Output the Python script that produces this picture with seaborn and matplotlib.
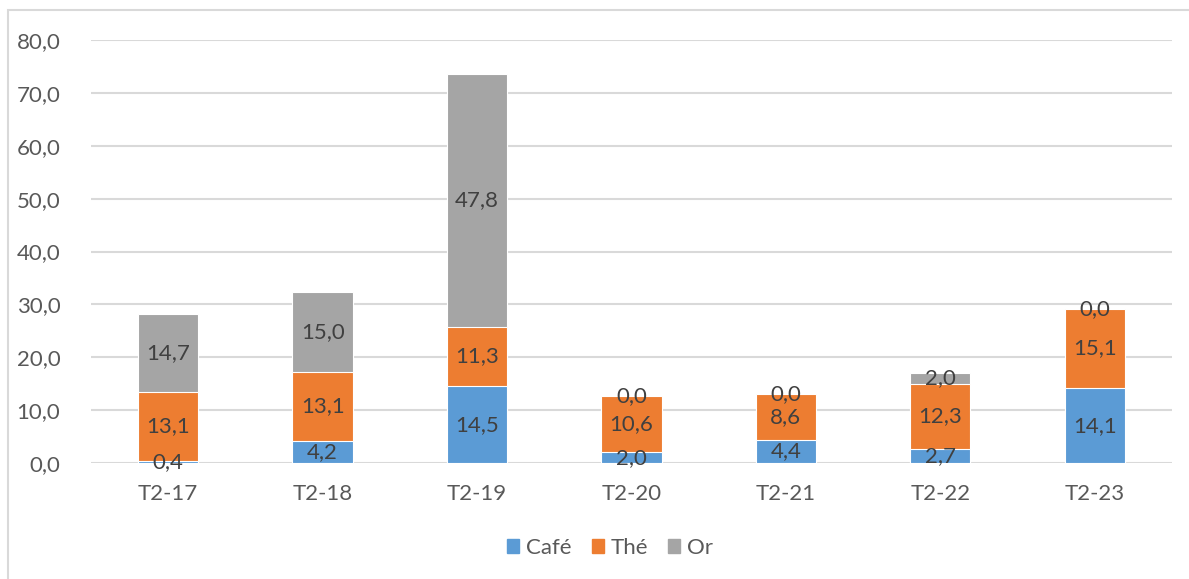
import numpy as np
import pandas as pd
import matplotlib.pyplot as plt
import matplotlib.patches as mpatches
import seaborn as sns

# Data
periodes = ['T2-17', 'T2-18', 'T2-19', 'T2-20', 'T2-21', 'T2-22', 'T2-23']
cafe = [0.4, 4.2, 14.5, 2.0, 4.4, 2.7, 14.1]
the = [13.1, 13.1, 11.3, 10.6, 8.6, 12.3, 15.1]
gold = [14.7, 15.0, 47.8, 0.0, 0.0, 2.0, 0.0]

series = ['Café', 'Thé', 'Or']
colors = ['#5B9BD5', '#ED7D31', '#A5A5A5']

df = pd.DataFrame({'Période': periodes, 'Café': cafe, 'Thé': the, 'Or': gold})
# cumulative tops for stacked look
cum = df[series].cumsum(axis=1)
bottoms = cum - df[series]

sns.set_style('white')
plt.rcParams['font.family'] = ['Lato', 'DejaVu Sans']

fig = plt.figure(figsize=(11.89, 5.79), dpi=100)
ax = fig.add_axes([0.0765, 0.2003, 0.9092, 0.7306])

# draw tallest first so smaller stacks sit on top
for s, c in reversed(list(zip(series, colors))):
    sns.barplot(x=df['Période'], y=cum[s], color=c, saturation=1, width=0.39,
                edgecolor='white', linewidth=0.8, ax=ax, zorder=3)

# data labels in the middle of each segment
for s in series:
    for i in range(len(periodes)):
        v = df[s][i]
        y = bottoms[s][i] + v / 2
        ax.text(i, y, f'{v:.1f}'.replace('.', ','), ha='center', va='center',
                fontsize=16, color='#404040', zorder=5)

ax.set_ylim(0, 80)
ax.set_yticks(np.arange(0, 81, 10))
ax.set_yticklabels([f'{t:.1f}'.replace('.', ',') for t in np.arange(0, 81, 10)])
ax.set_xlim(-0.5, len(periodes) - 0.5)
ax.set_xlabel('')
ax.set_ylabel('')
ax.yaxis.grid(True, color='#D9D9D9', linewidth=1.5, zorder=0)
ax.set_axisbelow(True)
for sp in ax.spines.values():
    sp.set_visible(False)
ax.tick_params(axis='both', length=0, labelsize=16, labelcolor='#595959')
ax.tick_params(axis='x', pad=15)
ax.tick_params(axis='y', pad=22)

handles = [mpatches.Patch(color=c, label=s) for s, c in zip(series, colors)]
fig.legend(handles=handles, loc='center', bbox_to_anchor=(610 / 1189, 1 - 548 / 579),
           ncol=3, frameon=False, fontsize=16, handlelength=0.55, handleheight=0.55,
           handletextpad=0.3, columnspacing=0.9, labelcolor='#595959')

# outer chart border
fig.add_artist(mpatches.Rectangle((8 / 1189, -0.1), 1.2, 1 - 10 / 579 + 0.1,
                                  transform=fig.transFigure, fill=False,
                                  edgecolor='#D9D9D9', linewidth=1.5))

fig.savefig('out.png', dpi=100)
